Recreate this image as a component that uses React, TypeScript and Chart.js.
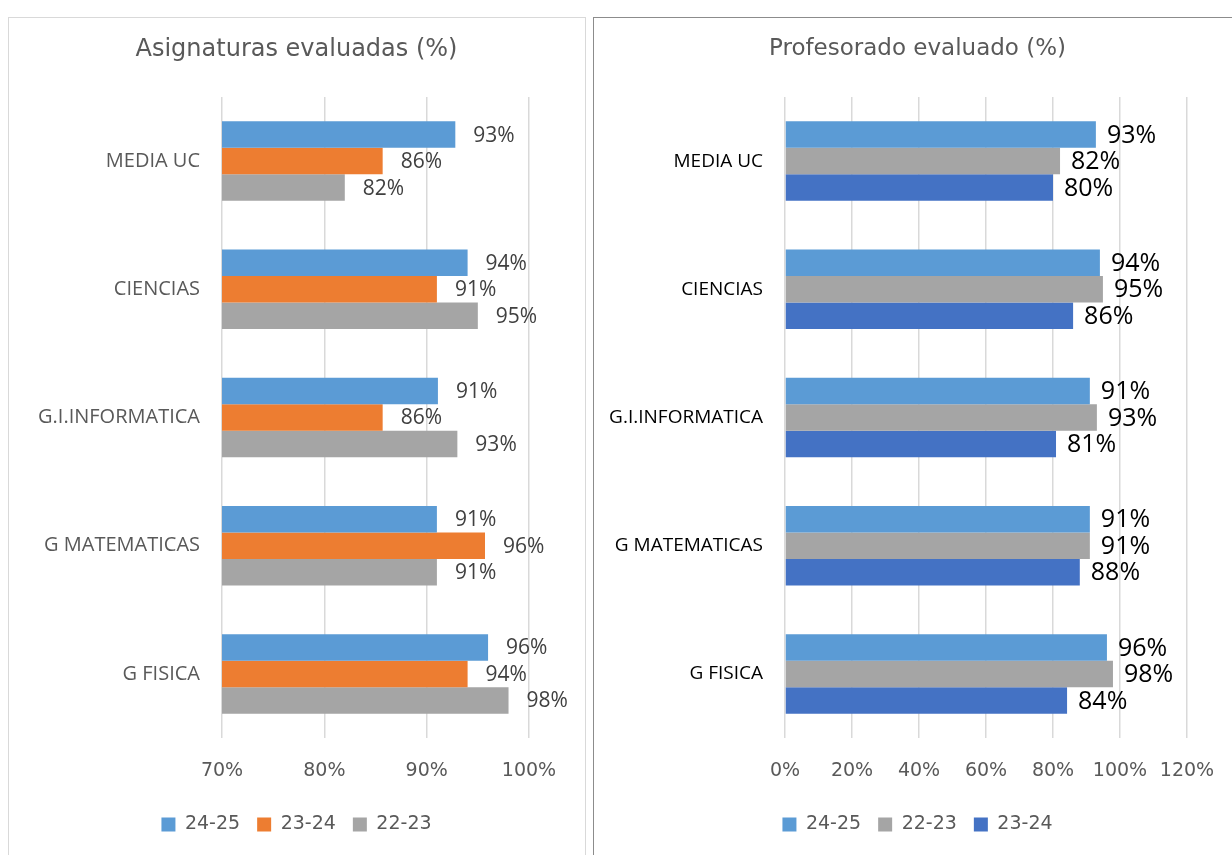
import React, { useEffect, useRef } from "react";
import { Chart, registerables } from "chart.js";

Chart.register(...registerables);

const categories = ["MEDIA UC", "CIENCIAS", "G.I.INFORMATICA", "G MATEMATICAS", "G FISICA"];

const leftTitle = "Asignaturas evaluadas (%)";
const leftSeriesNames = ["24-25", "23-24", "22-23"];
const left2425 = [92.8, 94.0, 91.1, 91.0, 96.0];
const left2324 = [85.7, 91.0, 85.7, 95.7, 94.0];
const left2223 = [82.0, 95.0, 93.0, 91.0, 98.0];
const leftTicks = [70, 80, 90, 100];

const rightTitle = "Profesorado evaluado (%)";
const rightSeriesNames = ["24-25", "22-23", "23-24"];
const right2425 = [92.8, 94.0, 91.0, 91.0, 96.1];
const right2223 = [82.1, 94.9, 93.1, 91.0, 97.9];
const right2324 = [80.0, 86.0, 80.9, 88.0, 84.2];
const rightTicks = [0, 20, 40, 60, 80, 100, 120];

const BLUE = "#5B9BD5";
const ORANGE = "#ED7D31";
const GRAY = "#A5A5A5";
const DARKBLUE = "#4472C4";
const FONT = "'Open Sans', 'DejaVu Sans', sans-serif";
const WIDE = "'DejaVu Sans', 'Open Sans', sans-serif";

function labelPlugin(color: string, size: number, offset: number) {
  return {
    id: "barLabels",
    afterDatasetsDraw(chart: any) {
      const ctx = chart.ctx;
      ctx.save();
      ctx.fillStyle = color;
      ctx.font = `${size}px ${FONT}`;
      ctx.textAlign = "left";
      ctx.textBaseline = "middle";
      chart.data.datasets.forEach((ds: any, di: number) => {
        const meta = chart.getDatasetMeta(di);
        meta.data.forEach((el: any, i: number) => {
          const v = ds.data[i];
          ctx.fillText(Math.round(v) + "%", el.x + offset, el.y + 1);
        });
      });
      ctx.restore();
    },
  };
}

type Cfg = {
  title: string;
  titleSize: number;
  names: string[];
  series: number[][];
  colors: string[];
  ticks: number[];
  yWidth: number;
  rightSpace: number;
  catColor: string;
  catSize: number;
  labelColor: string;
  labelSize: number;
  labelOffset: number;
  width: number;
  height: number;
};

function BarPanel(props: Cfg) {
  const ref = useRef<HTMLCanvasElement>(null);
  useEffect(() => {
    const c = props;
    const tickMin = c.ticks[0];
    const tickMax = c.ticks[c.ticks.length - 1];
    const step = c.ticks[1] - c.ticks[0];
    const chart = new Chart(ref.current as HTMLCanvasElement, {
      type: "bar",
      data: {
        labels: categories,
        datasets: c.series.map((s, i) => ({
          label: c.names[i],
          data: s,
          backgroundColor: c.colors[i],
          borderWidth: 0,
          categoryPercentage: 0.62,
          barPercentage: 1.0,
        })),
      },
      options: {
        indexAxis: "y",
        responsive: false,
        animation: false,
        layout: { padding: { left: 0, right: 0, top: 0, bottom: 11 } },
        plugins: {
          tooltip: { enabled: false },
          title: {
            display: true,
            text: c.title,
            color: "#595959",
            font: { family: WIDE, size: c.titleSize, weight: "normal" },
            padding: { top: 18, bottom: 80 - 18 - c.titleSize * 1.2 },
          },
          legend: {
            display: true,
            position: "bottom",
            labels: {
              boxWidth: 14,
              boxHeight: 14,
              padding: 17,
              color: "#595959",
              font: { family: WIDE, size: 19 },
            },
          },
        },
        scales: {
          x: {
            type: "linear",
            min: tickMin,
            max: tickMax,
            afterBuildTicks: (axis: any) => {
              axis.ticks = c.ticks.map((v) => ({ value: v }));
            },
            ticks: {
              stepSize: step,
              color: "#595959",
              padding: 22,
              font: { family: WIDE, size: 19 },
              callback: (v: any) => v + "%",
            },
            grid: { color: "#d9d9d9", lineWidth: 1.5, drawTicks: false },
            border: { display: false },
            afterFit: (axis: any) => {
              axis.height = 60;
            },
          },
          y: {
            type: "category",
            position: "left",
            grid: { display: false, drawTicks: false },
            border: { display: false },
            ticks: {
              color: c.catColor,
              padding: 22,
              font: { family: FONT, size: c.catSize },
            },
            afterFit: (axis: any) => {
              axis.width = c.yWidth;
            },
          },
          yRightSpace: {
            type: "category",
            position: "right",
            grid: { display: false, drawTicks: false },
            border: { display: false },
            ticks: { display: false },
            afterFit: (axis: any) => {
              axis.width = c.rightSpace;
            },
          },
        },
      } as any,
      plugins: [labelPlugin(c.labelColor, c.labelSize, c.labelOffset)],
    });
    return () => chart.destroy();
  }, []);
  return <canvas ref={ref} width={props.width} height={props.height} style={{ display: "block" }} />;
}

export default function App() {
  return (
    <div
      style={{
        position: "fixed",
        left: 0,
        top: 0,
        width: 1232,
        height: 855,
        overflow: "hidden",
        background: "#fff",
      }}
    >
      <div
        style={{
          position: "absolute",
          left: 8,
          top: 17,
          width: 576,
          height: 860,
          border: "1px solid #d9d9d9",
        }}
      />
      <div
        style={{
          position: "absolute",
          left: 593,
          top: 17,
          width: 700,
          height: 860,
          border: "1px solid #8c8c8c",
        }}
      />
      <div style={{ position: "absolute", left: 8, top: 17 }}>
        <BarPanel
          title={leftTitle}
          titleSize={24}
          names={leftSeriesNames}
          series={[left2425, left2324, left2223]}
          colors={[BLUE, ORANGE, GRAY]}
          ticks={leftTicks}
          yWidth={214}
          rightSpace={56}
          catColor="#595959"
          catSize={20}
          labelColor="#404040"
          labelSize={21}
          labelOffset={18}
          width={577}
          height={838}
        />
      </div>
      <div style={{ position: "absolute", left: 593, top: 17 }}>
        <BarPanel
          title={rightTitle}
          titleSize={23}
          names={rightSeriesNames}
          series={[right2425, right2223, right2324]}
          colors={[BLUE, GRAY, DARKBLUE]}
          ticks={rightTicks}
          yWidth={192}
          rightSpace={55}
          catColor="#000000"
          catSize={19}
          labelColor="#000000"
          labelSize={25}
          labelOffset={11}
          width={649}
          height={838}
        />
      </div>
    </div>
  );
}
